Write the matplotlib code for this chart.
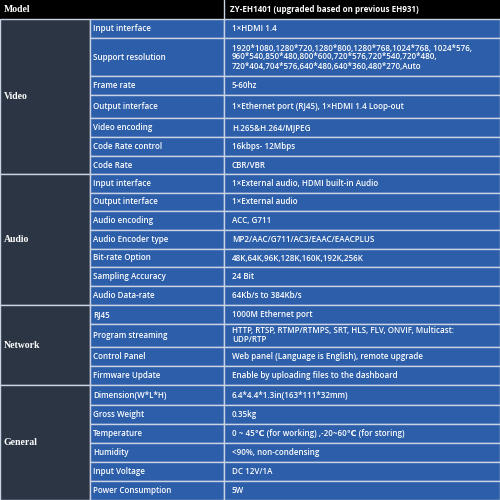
import matplotlib.pyplot as plt
from matplotlib.patches import Rectangle

model_label = "Model"
model_value = "ZY-EH1401 (upgraded based on previous EH931)"

groups = ["Video", "Audio", "Network", "General"]
params = [
    ["Input interface", "Support resolution", "Frame rate", "Output interface",
     "Video encoding", "Code Rate control", "Code Rate"],
    ["Input interface", "Output interface", "Audio encoding", "Audio Encoder type",
     "Bit-rate Option", "Sampling Accuracy", "Audio Data-rate"],
    ["RJ45", "Program streaming", "Control Panel", "Firmware Update"],
    ["Dimension(W*L*H)", "Gross Weight", "Temperature", "Humidity",
     "Input Voltage", "Power Consumption"],
]
values = [
    ["1×HDMI 1.4",
     "1920*1080,1280*720,1280*800,1280*768,1024*768, 1024*576,\n"
     "960*540,850*480,800*600,720*576,720*540,720*480,\n"
     "720*404,704*576,640*480,640*360,480*270,Auto",
     "5-60hz",
     "1×Ethernet port (RJ45), 1×HDMI 1.4 Loop-out",
     "H.265&H.264/MJPEG",
     "16kbps- 12Mbps",
     "CBR/VBR"],
    ["1×External audio, HDMI built-in Audio",
     "1×External audio",
     "ACC, G711",
     "MP2/AAC/G711/AC3/EAAC/EAACPLUS",
     "48K,64K,96K,128K,160K,192K,256K",
     "24 Bit",
     "64Kb/s to 384Kb/s"],
    ["1000M Ethernet port",
     "HTTP, RTSP, RTMP/RTMPS, SRT, HLS, FLV, ONVIF, Multicast:\nUDP/RTP",
     "Web panel (Language is English), remote upgrade",
     "Enable by uploading files to the dashboard"],
    ["6.4*4.4*1.3in(163*111*32mm)",
     "0.35kg",
     "0 ~ 45℃ (for working) ,-20~60℃ (for storing)",
     "<90%, non-condensing",
     "DC 12V/1A",
     "5W"],
]

# row heights in pixels (layout)
header_h = 19
row_h = [
    [19, 38, 19, 23, 19, 19, 18],
    [19, 18, 19, 19, 18, 19, 19],
    [19, 23, 19, 19],
    [20, 19, 19, 19, 19, 19],
]
x0, x1, x2, x3 = 0, 90, 224, 500

BLUE = "#2c5ea9"
DARK = "#2c3544"
LINE = "#c9d3e3"

fig = plt.figure(figsize=(5, 5), dpi=100)
ax = fig.add_axes([0, 0, 1, 1])
ax.set_xlim(0, 500)
ax.set_ylim(500, 0)
ax.axis("off")

serif = dict(family="Liberation Serif", weight="bold", color="white", fontsize=7)
sans = dict(family=["Open Sans", "DejaVu Sans"], weight="semibold", color="white", fontsize=5.8)

ax.add_patch(Rectangle((0, 0), 500, header_h, color="black", zorder=0))
ax.plot([x2, x2], [0, header_h], color=LINE, lw=1)
ax.text(4, header_h / 2, model_label, va="center", ha="left", **serif)
ax.text(x2 + 6, header_h / 2, model_value, va="center", ha="left",
        **{**sans, "weight": "bold"})

y = header_h
for g, ps, vs, hs in zip(groups, params, values, row_h):
    gh = sum(hs)
    ax.add_patch(Rectangle((x0, y), x1 - x0, gh, facecolor=DARK,
                           edgecolor=LINE, lw=1))
    ax.text(4, y + gh / 2, g, va="center", ha="left", **serif)
    yy = y
    for p, v, h in zip(ps, vs, hs):
        ax.add_patch(Rectangle((x1, yy), x2 - x1, h, facecolor=BLUE,
                               edgecolor=LINE, lw=1))
        ax.add_patch(Rectangle((x2, yy), x3 - x2, h, facecolor=BLUE,
                               edgecolor=LINE, lw=1))
        ax.text(x1 + 3, yy + h / 2, p, va="center", ha="left", **sans)
        ax.text(x2 + 8, yy + h / 2, v, va="center", ha="left",
                linespacing=1.0, **sans)
        yy += h
    y += gh

fig.savefig("out.png", dpi=100)
